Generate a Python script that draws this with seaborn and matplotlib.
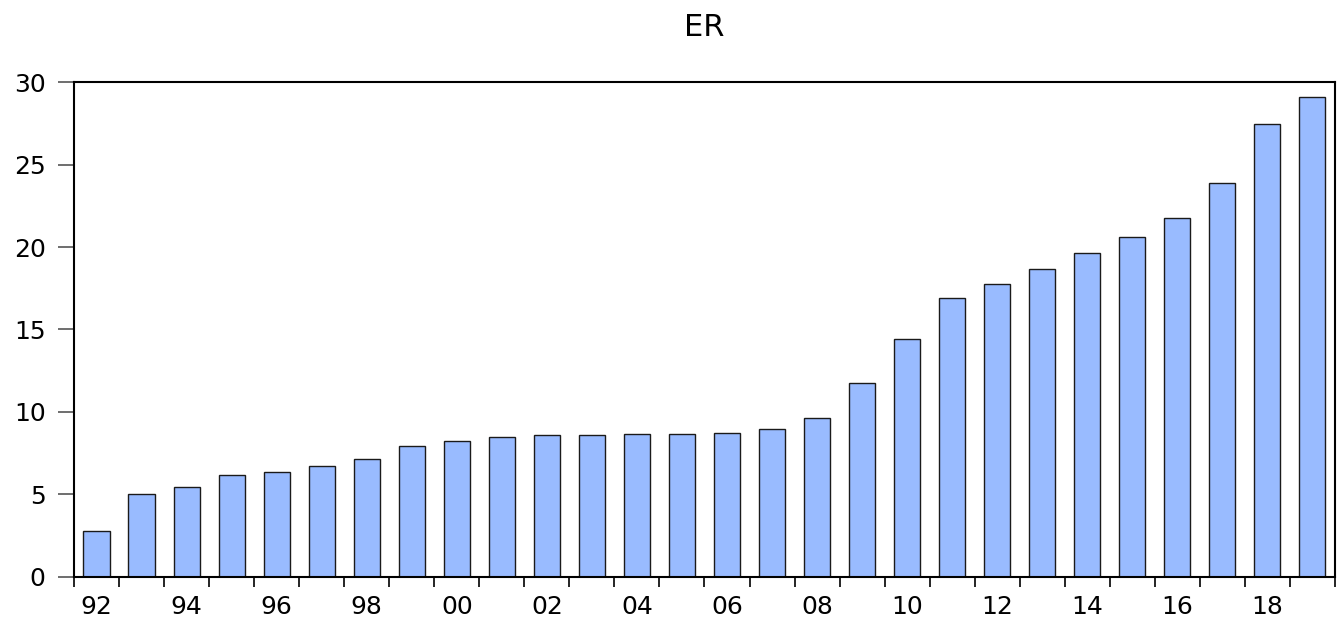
import numpy as np
import pandas as pd
import seaborn as sns
import matplotlib.pyplot as plt
from matplotlib.ticker import FixedLocator

years = list(range(1992, 2020))
er = [2.79, 5.03, 5.45, 6.18, 6.36, 6.73, 7.15, 7.94, 8.24, 8.48,
      8.60, 8.60, 8.67, 8.67, 8.73, 8.97, 9.64, 11.76, 14.42, 16.90,
      17.76, 18.67, 19.64, 20.60, 21.76, 23.88, 27.45, 29.10]
year_labels = [f"{y % 100:02d}" for y in years]

df = pd.DataFrame({"year": year_labels, "ER": er})

sns.set_style("white")
# wide sans to mimic the stretched EViews lettering
plt.rcParams['font.family'] = ['DejaVu Sans']
plt.rcParams['text.color'] = 'black'
plt.rcParams['xtick.color'] = 'black'
plt.rcParams['ytick.color'] = 'black'

fig = plt.figure(figsize=(13.43, 6.19), dpi=100)
ax = fig.add_axes([0.0551, 0.0679, 0.9389, 0.7996])

sns.barplot(data=df, x="year", y="ER", color="#99bbff", saturation=1,
            width=0.58, edgecolor="#1a1a1a", linewidth=1.0, ax=ax)

ax.set_xlim(-0.5, len(years) - 0.5)
ax.set_ylim(0, 30)
ax.set_yticks(range(0, 31, 5))
ax.set_xlabel("")
ax.set_ylabel("")

# labels every two years, tick marks between bars
idx = list(range(0, len(years), 2))
ax.set_xticks(idx)
ax.set_xticklabels([year_labels[i] for i in idx])
ax.xaxis.set_minor_locator(FixedLocator(np.arange(-0.5, len(years), 1)))
ax.tick_params(axis="x", which="major", length=0, pad=13, labelsize=18)
ax.tick_params(axis="x", which="minor", length=7.5, width=1.2, color="black",
               direction="out", bottom=True)
ax.tick_params(axis="y", length=11.5, width=1.2, color="#555555",
               direction="out", left=True, pad=9, labelsize=18)

for s in ax.spines.values():
    s.set_visible(True)
    s.set_color("black")
    s.set_linewidth(1.5)

ax.set_title("ER", fontsize=22, pad=33, color="black")

fig.savefig("out.png", dpi=100)
